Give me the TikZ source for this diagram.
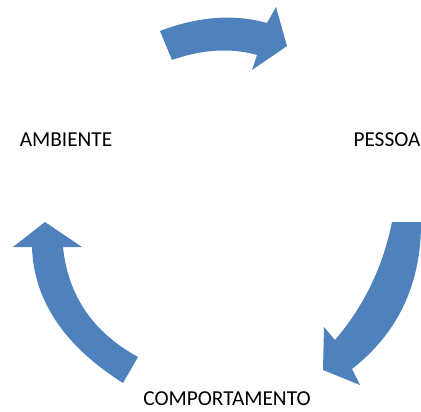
\documentclass[tikz,border=0pt]{standalone}
\usepackage{fontspec}
\setmainfont{Carlito}
\definecolor{arrblue}{RGB}{79,129,189}
\begin{document}
\begin{tikzpicture}[x=1pt,y=-1pt,
  blockarrow/.style={fill=arrblue,draw=none},
  lbl/.style={font=\fontsize{21.3}{24}\selectfont,inner sep=0pt,anchor=center}]
\useasboundingbox (0,0) rectangle (421,412);
% top arrow (AMBIENTE -> PESSOA)
\fill[blockarrow] (160,31) .. controls (199,16) and (235,14) .. (267,23)
  -- (276,7) -- (287,46) -- (252,70) -- (257,55)
  .. controls (231,47.6) and (202,49.3) .. (172,60) -- cycle;
% right arrow (PESSOA -> COMPORTAMENTO)
\fill[blockarrow] (392,222) -- (421,222)
  .. controls (421.3,283.7) and (398.3,332.7) .. (352,369)
  -- (360,385) -- (323,370) -- (324,327) -- (335,340)
  .. controls (364,306) and (383,266.7) .. (392,222) -- cycle;
% left arrow (COMPORTAMENTO -> AMBIENTE)
\fill[blockarrow] (138,357) -- (123,383)
  .. controls (64,345.7) and (33.7,300.3) .. (32,247)
  -- (13,247) -- (45,222) -- (82,247) -- (63,247)
  .. controls (68,295.7) and (93,332.3) .. (138,357) -- cycle;
\node[lbl] (amb) at (66,140) {AMBIENTE};
\node[lbl] (pes) at (387,140) {PESSOA};
\node[lbl] (com) at (227,399) {COMPORTAMENTO};
\end{tikzpicture}
\end{document}
